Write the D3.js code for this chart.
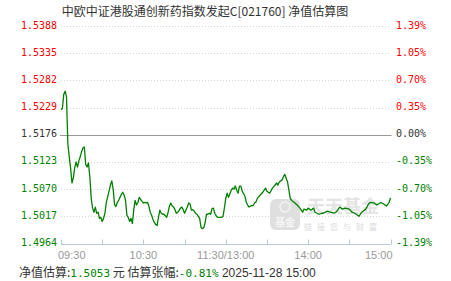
<!DOCTYPE html>
<html lang="zh">
<head>
    <meta charset="UTF-8">
    <title>净值估算图</title>
    <script type="text/javascript" src="https://cdn.jsdelivr.net/npm/d3@7/dist/d3.min.js"></script>
    <style>
        html, body { margin: 0; padding: 0; background: #fff; }
        svg { display: block; }
    </style>
</head>
<body>
<script type="text/javascript">
    const width = 451, height = 281;

    // 数据：开盘后的交易分钟数 与 估算净值
    const tradeMinute = [
        0, 1, 2, 3, 4, 5, 6, 7, 8, 9, 10, 11, 12, 13, 14, 15, 16, 17, 18, 19,
        20, 21, 22, 23, 24, 25, 26, 27, 28, 29, 30, 31, 32, 33, 34, 35, 36, 37, 38, 39,
        40, 41, 42, 43, 44, 45, 46, 47, 48, 49, 50, 51, 52, 53, 54, 55, 56, 57, 58, 59,
        60, 61, 62, 63, 64, 65, 66, 67, 68, 69, 70, 71, 72, 73, 74, 75, 76, 77, 78, 79,
        80, 81, 82, 83, 84, 85, 86, 87, 88, 89, 90, 91, 92, 93, 94, 95, 96, 97, 98, 99,
        100, 101, 102, 103, 104, 105, 106, 107, 108, 109, 110, 111, 112, 113, 114, 115, 116, 117, 118, 119,
        120, 121, 122, 123, 124, 125, 126, 127, 128, 129, 130, 131, 132, 133, 134, 135, 136, 137, 138, 139,
        140, 141, 142, 143, 145, 147, 149, 150, 152, 154, 156, 157, 158, 159, 161, 162, 163, 165, 166, 167,
        168, 170, 172, 174, 176, 177, 179, 180, 182, 184, 185, 188, 190, 191, 194, 196, 199, 201, 203, 205,
        207, 210, 212, 214, 217, 219, 222, 224, 225, 228, 230, 233, 235, 237, 239, 240
    ];
    const nav = [
        1.5225, 1.5227, 1.5255, 1.5261, 1.5250, 1.5158, 1.5133, 1.5111, 1.5082, 1.5092,
        1.5112, 1.5123, 1.5113, 1.5125, 1.5133, 1.5143, 1.5150, 1.5152, 1.5118, 1.5113,
        1.5121, 1.5094, 1.5052, 1.5033, 1.5025, 1.5035, 1.5023, 1.5025, 1.5013, 1.5015,
        1.5007, 1.5013, 1.5023, 1.5044, 1.5055, 1.5066, 1.5078, 1.5086, 1.5070, 1.5040,
        1.5036, 1.5044, 1.5048, 1.5054, 1.5060, 1.5064, 1.5058, 1.5048, 1.5019, 1.5015,
        1.5007, 1.5013, 1.5003, 1.5030, 1.5048, 1.5039, 1.5044, 1.5054, 1.5050, 1.5046,
        1.5043, 1.5044, 1.5043, 1.5044, 1.5037, 1.5025, 1.5019, 1.5011, 1.5005, 1.5001,
        1.4999, 1.5015, 1.5029, 1.5023, 1.5021, 1.5021, 1.5018, 1.5015, 1.5025, 1.5037,
        1.5043, 1.5037, 1.5035, 1.5030, 1.5023, 1.5025, 1.5028, 1.5033, 1.5035, 1.5030,
        1.5023, 1.5029, 1.5035, 1.5043, 1.5041, 1.5029, 1.5030, 1.5027, 1.5023, 1.5021,
        1.5017, 1.5013, 1.4995, 1.4993, 1.4995, 1.5005, 1.5021, 1.5021, 1.5023, 1.5021,
        1.5032, 1.5033, 1.5023, 1.5018, 1.5015, 1.5015, 1.5015, 1.5015, 1.5017, 1.5033,
        1.5052, 1.5062, 1.5054, 1.5061, 1.5068, 1.5072, 1.5070, 1.5076, 1.5068, 1.5062,
        1.5076, 1.5076, 1.5066, 1.5061, 1.5056, 1.5044, 1.5039, 1.5035, 1.5037, 1.5038,
        1.5038, 1.5043, 1.5045, 1.5052, 1.5058, 1.5064, 1.5072, 1.5066, 1.5062, 1.5072,
        1.5078, 1.5082, 1.5078, 1.5084, 1.5088, 1.5094, 1.5099, 1.5084, 1.5068, 1.5052,
        1.5048, 1.5044, 1.5039, 1.5033, 1.5025, 1.5031, 1.5029, 1.5033, 1.5029, 1.5033,
        1.5025, 1.5021, 1.5023, 1.5023, 1.5027, 1.5025, 1.5023, 1.5027, 1.5035, 1.5031,
        1.5033, 1.5031, 1.5025, 1.5023, 1.5017, 1.5025, 1.5031, 1.5041, 1.5044, 1.5043,
        1.5039, 1.5044, 1.5041, 1.5037, 1.5044, 1.5053
    ];

    // 坐标轴刻度
    const baseNav = 1.5176;
    const navTicks = [1.5388, 1.5335, 1.5282, 1.5229, 1.5176, 1.5123, 1.5070, 1.5017, 1.4964];
    const pctLabels = ['1.39%', '1.05%', '0.70%', '0.35%', '0.00%', '-0.35%', '-0.70%', '-1.05%', '-1.39%'];
    const tickMinutes = [0, 30, 60, 90, 120, 150, 180, 210, 240];
    const labelMinutes = [0, 60, 120, 180, 240];
    const timeLabels = ['09:30', '10:30', '11:30/13:00', '14:00', '15:00'];

    const title = '中欧中证港股通创新药指数发起C[021760] 净值估算图';
    const estNav = '1.5053';
    const estPct = '-0.81%';
    const estTime = '2025-11-28 15:00';

    const red = '#ff0000', green = '#008000', dark = '#333';
    const mono = '"DejaVu Sans Mono", monospace';
    const cjk = '"Noto Sans CJK SC", sans-serif';
    const colorOf = v => v > baseNav + 1e-9 ? red : (v < baseNav - 1e-9 ? green : dark);

    const x = d3.scaleLinear().domain([0, 240]).range([61, 390.5]);
    const y = d3.scaleLinear().domain([1.4964, 1.5388]).range([243.5, 26]);

    const svg = d3.select('body').append('svg')
        .attr('width', width)
        .attr('height', height);

    // 标题
    svg.append('text')
        .attr('x', 205).attr('y', 16)
        .attr('text-anchor', 'middle')
        .attr('font-family', cjk)
        .attr('font-size', 12)
        .attr('fill', dark)
        .text(title);

    // 网格线
    svg.append('g')
        .selectAll('line')
        .data(navTicks.filter(v => v !== baseNav && v !== 1.4964))
        .enter().append('line')
        .attr('x1', x(0)).attr('x2', x(240))
        .attr('y1', d => Math.round(y(d)) + 0.5)
        .attr('y2', d => Math.round(y(d)) + 0.5)
        .attr('stroke', '#d4d4d4')
        .attr('stroke-dasharray', '1,2');

    // 水印
    const wm = svg.append('g').attr('opacity', 0.9);
    wm.append('rect')
        .attr('x', 270).attr('y', 199).attr('width', 30).attr('height', 31).attr('rx', 6)
        .attr('fill', '#dcdcdc');
    wm.append('circle')
        .attr('cx', 285).attr('cy', 207).attr('r', 5)
        .attr('fill', 'none').attr('stroke', '#f2f2f2').attr('stroke-width', 1.5);
    wm.append('text')
        .attr('x', 285).attr('y', 226)
        .attr('text-anchor', 'middle')
        .attr('font-family', cjk).attr('font-size', 10).attr('font-weight', 'bold')
        .attr('fill', '#f6f6f6')
        .text('基金');
    wm.append('text')
        .attr('x', 343).attr('y', 213)
        .attr('text-anchor', 'middle')
        .attr('font-family', cjk).attr('font-size', 18).attr('font-weight', 'bold')
        .attr('fill', '#e2e2e2')
        .text('天天基金');
    wm.append('text')
        .attr('x', 343).attr('y', 230)
        .attr('text-anchor', 'middle')
        .attr('font-family', cjk).attr('font-size', 8)
        .attr('letter-spacing', 5)
        .attr('fill', '#d8d8d8')
        .text('链接您与财富');

    // 零线
    svg.append('line')
        .attr('x1', x(0) - 1).attr('x2', x(240) + 1)
        .attr('y1', Math.round(y(baseNav)) + 0.5)
        .attr('y2', Math.round(y(baseNav)) + 0.5)
        .attr('stroke', '#999');

    // X 轴
    const axisY = 244.5;
    svg.append('line')
        .attr('x1', x(0)).attr('x2', x(240))
        .attr('y1', axisY).attr('y2', axisY)
        .attr('stroke', '#b9c9da');
    svg.append('g')
        .selectAll('line')
        .data(tickMinutes)
        .enter().append('line')
        .attr('x1', d => Math.round(x(d)) + 0.5)
        .attr('x2', d => Math.round(x(d)) + 0.5)
        .attr('y1', axisY - 5).attr('y2', axisY)
        .attr('stroke', '#b9c9da');
    svg.append('g')
        .attr('font-family', '"Liberation Sans", Arial, sans-serif')
        .attr('font-size', 11)
        .attr('fill', '#999')
        .selectAll('text')
        .data(labelMinutes)
        .enter().append('text')
        .attr('x', (d, i) => i === 0 ? x(d) - 3 : (i === labelMinutes.length - 1 ? x(d) + 2 : x(d)))
        .attr('y', 259)
        .attr('text-anchor', (d, i) => i === 0 ? 'start' : (i === labelMinutes.length - 1 ? 'end' : 'middle'))
        .text((d, i) => timeLabels[i]);

    // 左右刻度标签
    svg.append('g')
        .attr('font-family', mono)
        .attr('font-size', 10)
        .selectAll('text')
        .data(navTicks)
        .enter().append('text')
        .attr('x', 57)
        .attr('y', d => y(d) + 2.5)
        .attr('text-anchor', 'end')
        .attr('fill', colorOf)
        .text(d => d.toFixed(4));
    svg.append('g')
        .attr('font-family', mono)
        .attr('font-size', 10)
        .selectAll('text')
        .data(navTicks)
        .enter().append('text')
        .attr('x', 396)
        .attr('y', d => y(d) + 2.5)
        .attr('fill', colorOf)
        .text((d, i) => pctLabels[i]);

    // 净值曲线
    const points = tradeMinute.map((m, i) => [m, nav[i]]);
    svg.append('path')
        .datum(points)
        .attr('fill', 'none')
        .attr('stroke', green)
        .attr('stroke-width', 1.3)
        .attr('stroke-linejoin', 'round')
        .attr('d', d3.line().x(d => x(d[0])).y(d => y(d[1])));

    // 底部说明
    const info = svg.append('text')
        .attr('x', 19).attr('y', 277)
        .attr('font-size', 12);
    info.append('tspan').attr('font-family', cjk).attr('fill', dark).text('净值估算:');
    info.append('tspan').attr('font-family', mono).attr('font-size', 11).attr('fill', green).text(estNav);
    info.append('tspan').attr('font-family', cjk).attr('fill', dark).text(' 元 估算张幅:');
    info.append('tspan').attr('font-family', mono).attr('font-size', 11).attr('fill', green).text(estPct);
    info.append('tspan').attr('font-family', '"Liberation Sans", Arial, sans-serif').attr('fill', dark).text(' ' + estTime);
</script>
</body>
</html>
